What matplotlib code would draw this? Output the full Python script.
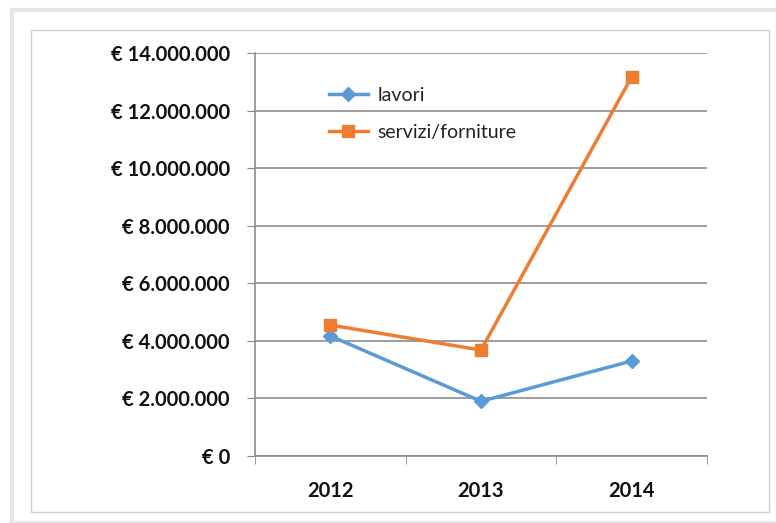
import matplotlib
matplotlib.use("Agg")
import matplotlib.pyplot as plt
from matplotlib.patches import Rectangle
from matplotlib.ticker import FuncFormatter, MultipleLocator

years = ["2012", "2013", "2014"]
lavori = [4170000, 1900000, 3300000]
servizi = [4550000, 3680000, 13170000]

plt.rcParams['font.family'] = ['Lato', 'DejaVu Sans']

W, H = 776, 523
fig = plt.figure(figsize=(W/100, H/100), dpi=100)
fig.patch.set_facecolor('white')

# outer shadow frame
fig.add_artist(Rectangle((12/W, 0), 1, 1 - 10/H, transform=fig.transFigure,
                         facecolor='none', edgecolor='#e6e6e6', lw=3))
fig.add_artist(Rectangle((31/W, 1 - 512/H), (769-31)/W, (512-30)/H, transform=fig.transFigure,
                         facecolor='none', edgecolor='#d0d0d0', lw=1))

ax = fig.add_axes([255/W, 1 - 456/H, (707-255)/W, (456-53)/H])
x = range(len(years))
ax.plot(x, lavori, color='#5B9BD5', lw=2.5, marker='D', ms=7, label='lavori')
ax.plot(x, servizi, color='#ED7D31', lw=2.5, marker='s', ms=8, label='servizi/forniture')

ax.set_xlim(-0.5, 2.5)
ax.set_ylim(0, 14000000)
ax.yaxis.set_major_locator(MultipleLocator(2000000))

def fmt(v, pos):
    s = f"{int(round(v)):,}".replace(",", ".")
    return f"€ {s}"
ax.yaxis.set_major_formatter(FuncFormatter(fmt))
ax.set_xticks(list(x))
ax.set_xticklabels(years)
ax.set_xticks([-0.5, 0.5, 1.5, 2.5], minor=True)
ax.tick_params(axis='x', which='major', length=0, pad=18)
ax.tick_params(axis='x', which='minor', length=6, color='#888888', direction='out')
ax.tick_params(axis='y', length=6, color='#888888', pad=12)
for lab in ax.get_xticklabels() + ax.get_yticklabels():
    lab.set_fontweight('bold')
    lab.set_fontsize(14.5)
    lab.set_color('#111111')

ax.grid(axis='y', color='#8c8c8c', lw=1.2)
ax.set_axisbelow(True)
for s in ['top', 'right']:
    ax.spines[s].set_visible(False)
ax.spines['left'].set_color('#8c8c8c')
ax.spines['bottom'].set_color('#8c8c8c')
ax.spines['left'].set_linewidth(1.2)
ax.spines['bottom'].set_linewidth(1.2)

leg = ax.legend(loc='upper left', bbox_to_anchor=(0.125, 0.96), frameon=False,
                fontsize=14, handlelength=2.0, handletextpad=0.5, labelspacing=1.05)
for t in leg.get_texts():
    t.set_color('#222222')

fig.savefig('out.png', dpi=100)
